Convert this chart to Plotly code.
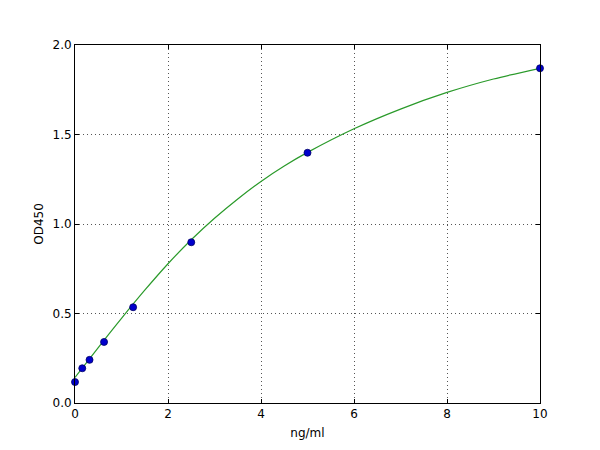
import plotly.graph_objects as go

# Standard points
conc = [0, 0.156, 0.3125, 0.625, 1.25, 2.5, 5, 10]
od = [0.117, 0.194, 0.241, 0.341, 0.535, 0.898, 1.398, 1.870]

# Fitted curve
curve_x = [0, 0.5, 1, 1.5, 2, 2.5, 3, 3.5, 4, 4.5, 5, 6, 7, 8, 9, 10]
curve_y = [0.143, 0.310, 0.473, 0.630, 0.778, 0.912, 1.032, 1.140, 1.238, 1.324, 1.400, 1.532, 1.642, 1.735, 1.810, 1.870]

x_ticks = [0, 2, 4, 6, 8, 10]
y_ticks = [0.0, 0.5, 1.0, 1.5, 2.0]

fig = go.Figure()
fig.add_trace(go.Scatter(x=curve_x, y=curve_y, mode="lines",
                         line=dict(color="#2a9a2a", width=1.2, shape="spline", smoothing=0.8),
                         hoverinfo="skip", showlegend=False))
fig.add_trace(go.Scatter(x=conc, y=od, mode="markers",
                         marker=dict(color="#0000cc", size=7, line=dict(color="#000066", width=0.8)),
                         showlegend=False, cliponaxis=False))

axis_common = dict(showline=True, linecolor="black", linewidth=1, mirror="ticks",
                   ticks="inside", ticklen=4, tickcolor="black",
                   showgrid=True, gridcolor="#555555", griddash="1px,3px", gridwidth=1,
                   zeroline=False,
                   tickfont=dict(family="DejaVu Sans", size=12, color="black"))

fig.update_xaxes(range=[0, 10], tickvals=x_ticks, ticktext=[str(v) for v in x_ticks],
                 title=dict(text="ng/ml", font=dict(family="DejaVu Sans", size=12, color="black"), standoff=8),
                 **axis_common)
fig.update_yaxes(range=[0, 2.0], tickvals=y_ticks, ticktext=[f"{v:.1f}" for v in y_ticks],
                 title=dict(text="OD450", font=dict(family="DejaVu Sans", size=12, color="black"), standoff=6),
                 **axis_common)

fig.update_layout(width=592, height=442,
                  margin=dict(l=67, r=60, t=37, b=45),
                  paper_bgcolor="white", plot_bgcolor="white",
                  font=dict(family="DejaVu Sans", size=12, color="black"))

fig.write_html("out.html")
